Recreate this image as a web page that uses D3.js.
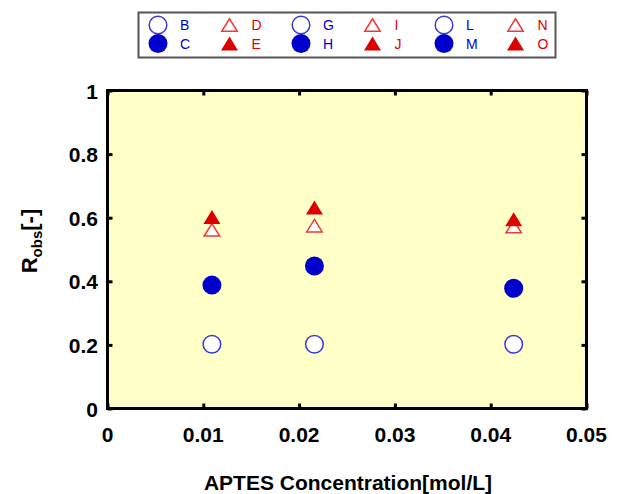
<!DOCTYPE html>
<html>
<head>
<meta charset="utf-8">
<script src="https://cdn.jsdelivr.net/npm/d3@7"></script>
<style>
  body { margin: 0; background: #fff; }
  text { font-family: "Liberation Sans", Arial, sans-serif; }
</style>
</head>
<body>
<svg id="chart" width="622" height="494"></svg>
<script>
// series names in legend order (column pairs)
const seriesNames = ['B', 'C', 'D', 'E', 'G', 'H', 'I', 'J', 'L', 'M', 'N', 'O'];
const seriesX = [0.0109, 0.0109, 0.0109, 0.0109, 0.0216, 0.0216, 0.0216, 0.0216, 0.0424, 0.0424, 0.0424, 0.0424];
const seriesY = [0.202, 0.388, 0.562, 0.602, 0.202, 0.448, 0.575, 0.632, 0.202, 0.378, 0.572, 0.595];
const seriesShape = ['circle', 'circle', 'triangle', 'triangle', 'circle', 'circle', 'triangle', 'triangle', 'circle', 'circle', 'triangle', 'triangle'];
const seriesFilled = [false, true, false, true, false, true, false, true, false, true, false, true];

const xTicks = [0, 0.01, 0.02, 0.03, 0.04, 0.05];
const xTickLabels = ['0', '0.01', '0.02', '0.03', '0.04', '0.05'];
const yTicks = [0, 0.2, 0.4, 0.6, 0.8, 1];
const yTickLabels = ['0', '0.2', '0.4', '0.6', '0.8', '1'];

const blue = '#0000cc', blueLine = '#3a3ad8';
const red = '#dd0000', redLine = '#ee3a3a';

const svg = d3.select('#chart');
const plot = { left: 107.5, right: 586.5, top: 90.5, bottom: 408.5 };

const x = d3.scaleLinear().domain([0, 0.05]).range([plot.left, plot.right]);
const y = d3.scaleLinear().domain([0, 1]).range([plot.bottom, plot.top]);

// plot background
svg.append('rect')
  .attr('x', plot.left).attr('y', plot.top)
  .attr('width', plot.right - plot.left).attr('height', plot.bottom - plot.top)
  .attr('fill', '#ffffc8');

// inner ticks on all four sides
const tickLen = 5;
const axisBottom = d3.axisBottom(x).tickValues(xTicks).tickSize(-tickLen).tickFormat('');
const axisTop = d3.axisTop(x).tickValues(xTicks).tickSize(-tickLen).tickFormat('');
const axisLeft = d3.axisLeft(y).tickValues(yTicks).tickSize(-tickLen).tickFormat('');
const axisRight = d3.axisRight(y).tickValues(yTicks).tickSize(-tickLen).tickFormat('');
[[axisBottom, `translate(0,${plot.bottom})`], [axisTop, `translate(0,${plot.top})`],
 [axisLeft, `translate(${plot.left},0)`], [axisRight, `translate(${plot.right},0)`]].forEach(([ax, tr]) => {
  const g = svg.append('g').attr('transform', tr).call(ax);
  g.select('.domain').remove();
  g.selectAll('line').attr('stroke', '#000').attr('stroke-width', 3);
});

// frame
svg.append('rect')
  .attr('x', plot.left).attr('y', plot.top)
  .attr('width', plot.right - plot.left).attr('height', plot.bottom - plot.top)
  .attr('fill', 'none').attr('stroke', '#000').attr('stroke-width', 3);

// tick labels
svg.append('g').selectAll('text').data(xTicks).enter().append('text')
  .attr('x', d => x(d)).attr('y', 442)
  .attr('text-anchor', 'middle')
  .attr('font-size', 21).attr('font-weight', 'bold')
  .text((d, i) => xTickLabels[i]);

svg.append('g').selectAll('text').data(yTicks).enter().append('text')
  .attr('x', 98).attr('y', d => y(d) + 8)
  .attr('text-anchor', 'end')
  .attr('font-size', 21).attr('font-weight', 'bold')
  .text((d, i) => yTickLabels[i]);

// axis titles
svg.append('text')
  .attr('x', (plot.left + plot.right) / 2 + 1).attr('y', 490)
  .attr('text-anchor', 'middle')
  .attr('font-size', 21).attr('font-weight', 'bold')
  .text('APTES Concentration[mol/L]');

const yTitle = svg.append('text')
  .attr('transform', `translate(37,241) rotate(-90)`)
  .attr('text-anchor', 'middle')
  .attr('font-size', 22).attr('font-weight', 'bold');
yTitle.append('tspan').text('R');
yTitle.append('tspan').attr('font-size', 15).attr('dy', 5).text('obs');
yTitle.append('tspan').attr('dy', -5).text('[-]');

// markers
function triPath(cx, cy, w, h) {
  return `M${cx},${cy - h / 2}L${cx + w / 2},${cy + h / 2}L${cx - w / 2},${cy + h / 2}Z`;
}
function drawMarker(g, shape, filled, cx, cy) {
  if (shape === 'circle') {
    g.append('circle')
      .attr('cx', cx).attr('cy', cy).attr('r', filled ? 9.5 : 8.8)
      .attr('fill', filled ? blue : '#fff')
      .attr('stroke', filled ? blue : blueLine)
      .attr('stroke-width', filled ? 0 : 1.5);
  } else {
    g.append('path')
      .attr('d', filled ? triPath(cx, cy, 17, 14) : triPath(cx, cy, 15.5, 12.5))
      .attr('fill', filled ? red : '#fff')
      .attr('stroke', filled ? red : redLine)
      .attr('stroke-width', filled ? 0 : 1.5)
      .attr('stroke-linejoin', 'miter');
  }
}

const pts = svg.append('g');
// draw open markers first, filled on top
d3.range(seriesNames.length).sort((a, b) => seriesFilled[a] - seriesFilled[b]).forEach(i => {
  drawMarker(pts, seriesShape[i], seriesFilled[i], x(seriesX[i]), y(seriesY[i]));
});

// legend
const legend = svg.append('g');
legend.append('rect')
  .attr('x', 138.5).attr('y', 12.5).attr('width', 417).attr('height', 45)
  .attr('fill', '#fff').attr('stroke', '#555').attr('stroke-width', 2);

const pairs = d3.range(0, seriesNames.length, 2);
pairs.forEach((i, k) => {
  const mx = 158 + k * 71.5;
  [0, 1].forEach(j => {
    const s = i + j;
    const my = j === 0 ? 25 : 43.5;
    drawMarker(legend, seriesShape[s], seriesFilled[s], mx, my);
    legend.append('text')
      .attr('x', mx + 22).attr('y', my + 5)
      .attr('font-size', 14)
      .attr('fill', seriesShape[s] === 'circle' ? blue : red)
      .text(seriesNames[s]);
  });
});
</script>
</body>
</html>
